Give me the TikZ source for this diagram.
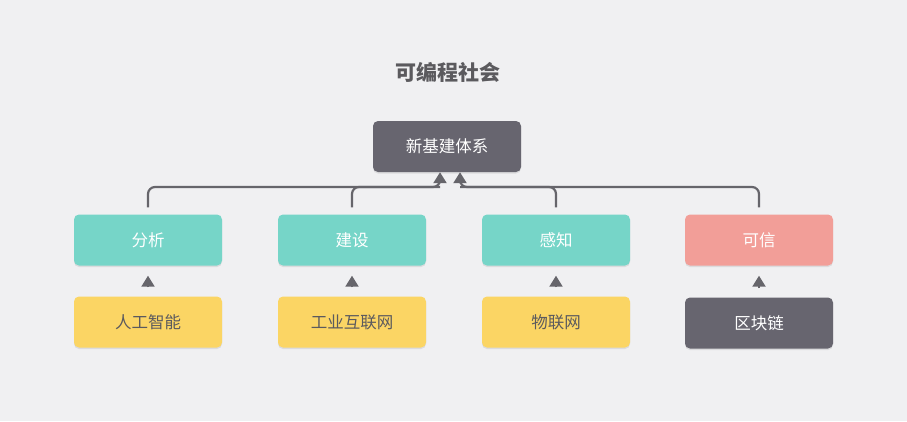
\documentclass[tikz,border=0pt]{standalone}
\usepackage{fontspec}
\newfontfamily\cjk{Noto Sans CJK SC}
\usetikzlibrary{arrows.meta,shadows}
\definecolor{bgcol}{HTML}{F0F0F2}
\definecolor{darkcol}{HTML}{67656F}
\definecolor{tealcol}{HTML}{76D5C8}
\definecolor{yelcol}{HTML}{FBD564}
\definecolor{pinkcol}{HTML}{F29E98}
\definecolor{linecol}{HTML}{66656B}
\definecolor{txtcol}{HTML}{5B5A5E}

\begin{document}
\begin{tikzpicture}[x=1pt, y=-1pt,
        box/.style={rectangle, rounded corners=5pt, minimum width=148pt, minimum height=51pt, inner sep=0pt, text=white, font=\cjk\fontsize{16.5}{16.5}\selectfont, drop shadow={shadow xshift=0pt, shadow yshift=-1.5pt, opacity=0.18}},
        dark/.style={box, fill=darkcol},
        teal/.style={box, fill=tealcol},
        pink/.style={box, fill=pinkcol},
        yel/.style={box, fill=yelcol, text=txtcol},
        conn/.style={draw=linecol, line width=2.2pt, rounded corners=7pt, shorten <=7pt, -{Triangle[width=13pt,length=11pt]}},
        tip/.style={draw=linecol, line width=2pt, shorten <=9pt, shorten >=10pt, -{Triangle[width=13pt,length=11pt]}},
    ]
        \fill[bgcol] (0,0) rectangle (907,421);
        \useasboundingbox (0,0) rectangle (907,421);

        % Title and top box
        \node[text=txtcol, font=\cjk\bfseries\fontsize{21}{21}\selectfont] (bt) at (448,72) {可编程社会};
        \node[dark] (xjt) at (447,146.5) {新基建体系};

        % Middle row
        \node[teal] (fx) at (148,240) {分析};
        \node[teal] (js) at (352,240) {建设};
        \node[teal] (gz) at (556,240) {感知};
        \node[pink] (kx) at (759,240) {可信};

        % Bottom row
        \node[yel] (rgzn) at (148,322) {人工智能};
        \node[yel] (gyhlw) at (352,322) {工业互联网};
        \node[yel] (wlw) at (556,322) {物联网};
        \node[dark] (qkl) at (759,323) {区块链};

        % Joins under the top box
        \coordinate (jl) at (440,187);
        \coordinate (jr) at (460,187);
        \draw[conn] (fx.north) |- (jl) -- (jl |- xjt.south);
        \draw[conn, -] (js.north) |- (jl);
        \draw[conn] (kx.north) |- (jr) -- (jr |- xjt.south);
        \draw[conn, -] (gz.north) |- (jr);

        % Small arrows between rows
        \draw[tip] (rgzn) -- (fx);
        \draw[tip] (gyhlw) -- (js);
        \draw[tip] (wlw) -- (gz);
        \draw[tip] (qkl) -- (kx);
    \end{tikzpicture}
\end{document}
